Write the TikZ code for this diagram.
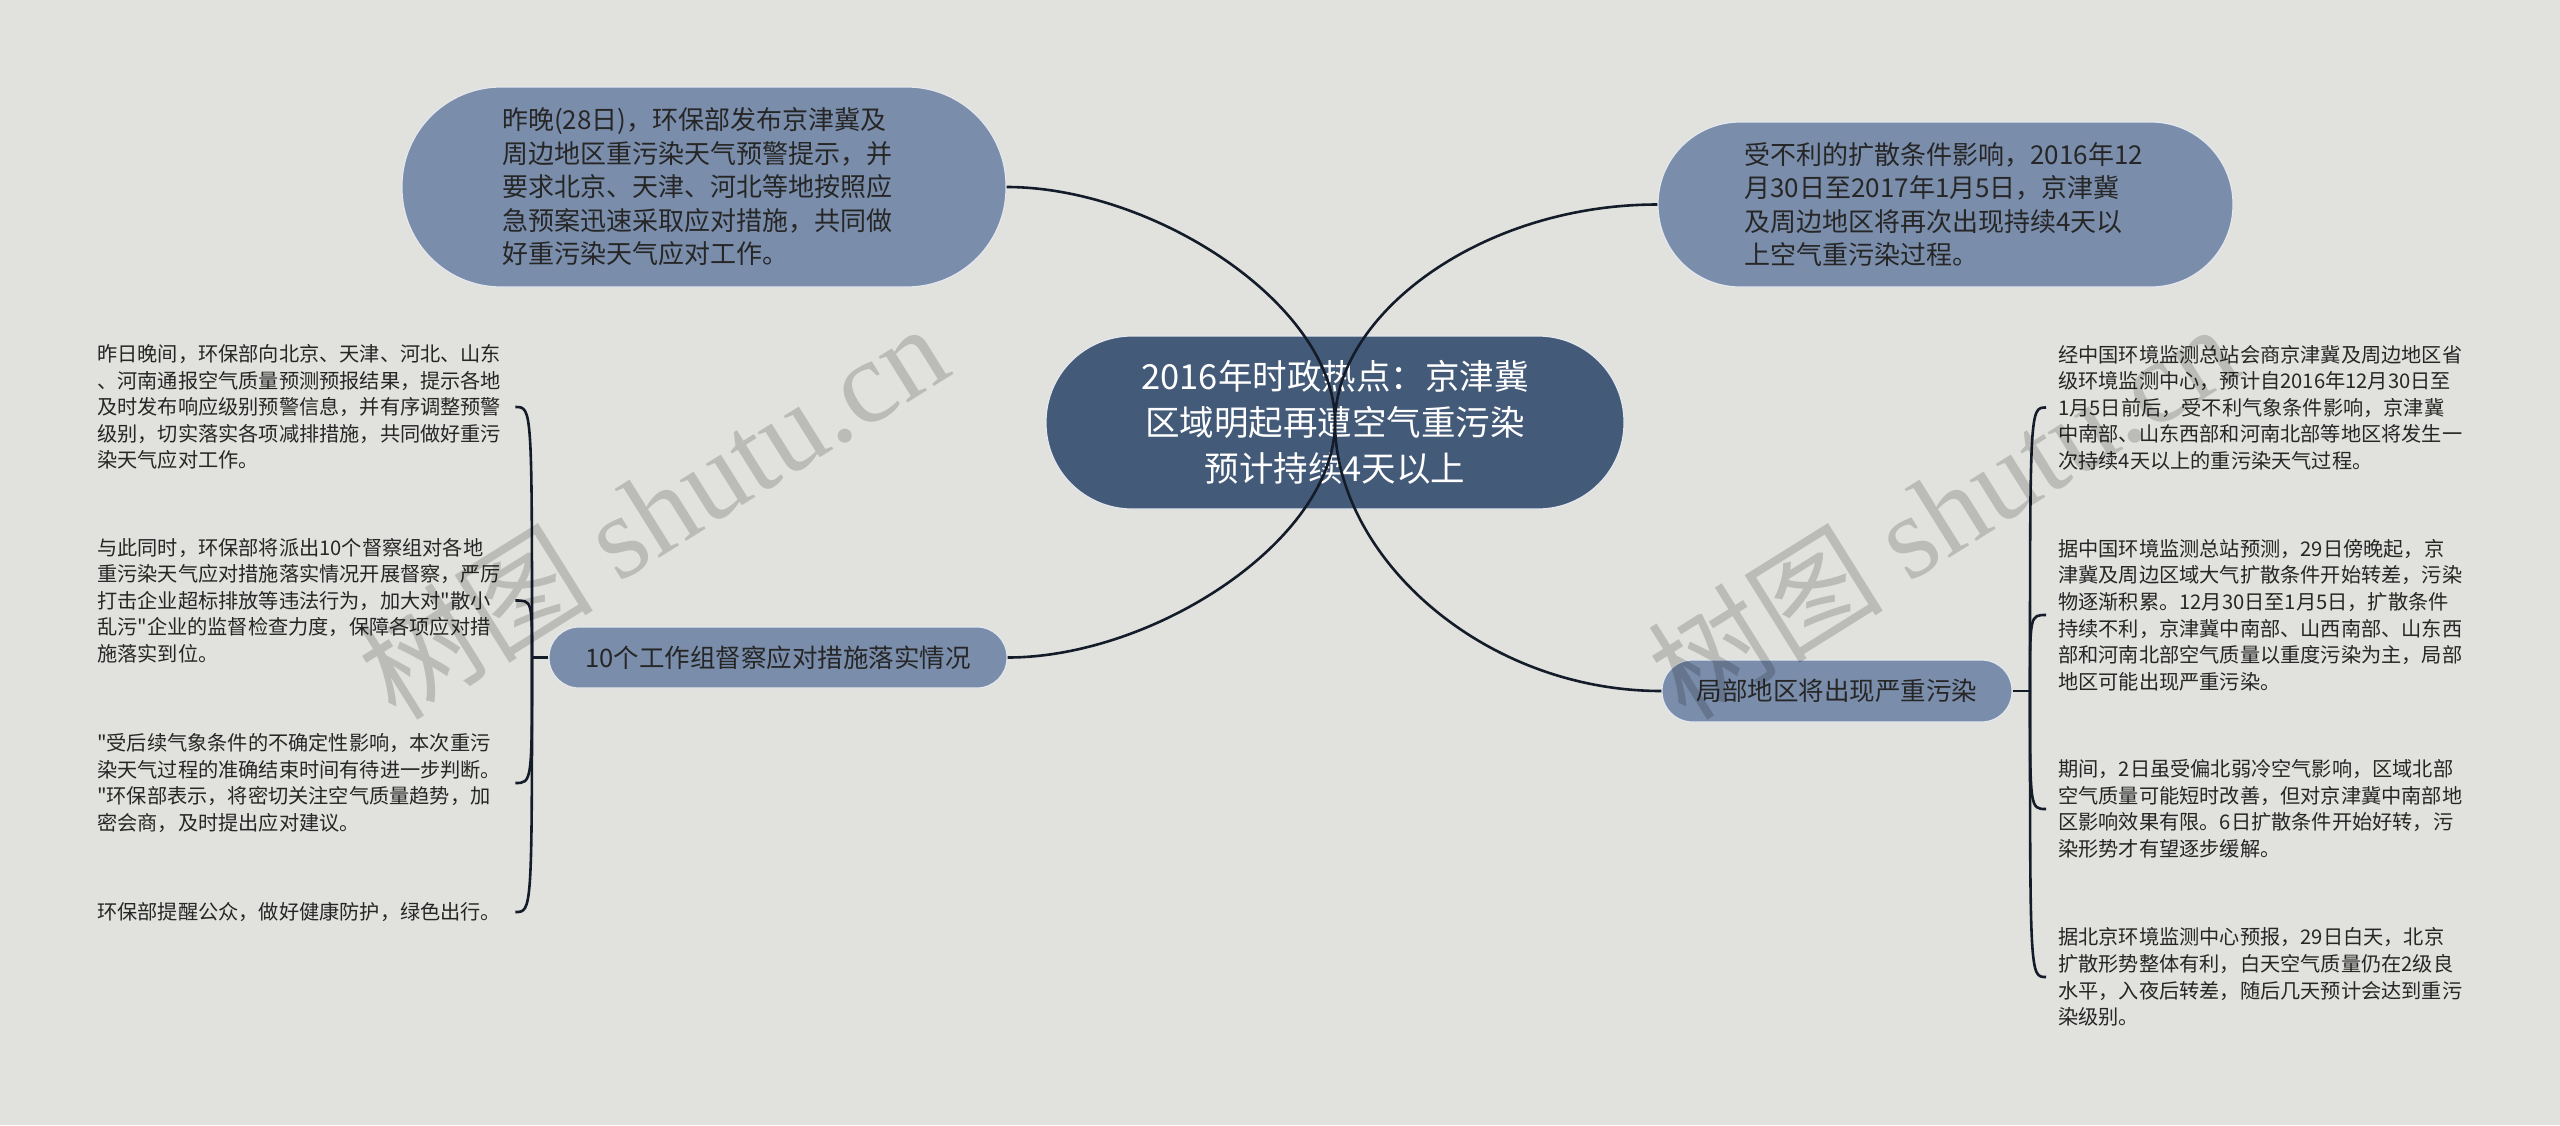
\documentclass[tikz,border=0pt]{standalone}
\usepackage{fontspec}
\setmainfont{Noto Sans CJK SC}
\newfontfamily\cjk{Noto Sans CJK SC}
\newfontfamily\wmlatin{Liberation Serif}
\definecolor{bg}{HTML}{E1E2DE}
\definecolor{rootfill}{HTML}{445A79}
\definecolor{subfill}{HTML}{7A8DAB}
\definecolor{linkc}{HTML}{141C2A}
\definecolor{txt}{HTML}{262626}
\definecolor{edgec}{HTML}{E4E8EE}
\begin{document}
\begin{tikzpicture}[x=1pt,y=-1pt,
  pill/.style={rectangle, draw=edgec, line width=1.2pt, inner sep=0pt},
  root/.style={pill, fill=rootfill, text=white, minimum width=578pt, minimum height=173pt,
    rounded corners=86pt, align=center, font=\cjk\fontsize{34.5pt}{46pt}\selectfont},
  topnode/.style={pill, fill=subfill, text=txt, align=left, font=\cjk\fontsize{26pt}{33.5pt}\selectfont},
  subnode/.style={pill, fill=subfill, text=txt, font=\cjk\fontsize{25.5pt}{30pt}\selectfont},
  leafL/.style={anchor=west, inner xsep=12pt, inner ysep=0pt, text width=406pt, align=left,
    text=txt, font=\cjk\fontsize{20.2pt}{26.6pt}\selectfont},
  leafR/.style={leafL},
  link/.style={draw=linkc, line width=2.6pt},
  wm/.style={rotate=32, text=black, opacity=0.17, inner sep=0pt, font=\cjk\fontsize{118pt}{118pt}\selectfont}
]
\useasboundingbox (0,0) rectangle (2560,1125);
\fill[bg] (0,0) rectangle (2560,1125);

% main nodes
\node[root] (c) at (1335,422.5) {2016年时政热点：京津冀\\区域明起再遭空气重污染\\预计持续4天以上};
\node[topnode, minimum width=604pt, minimum height=200pt, rounded corners=99pt, text width=404pt] (tl) at (704,187)
  {昨晚(28日)，环保部发布京津冀及\\周边地区重污染天气预警提示，并\\要求北京、天津、河北等地按照应\\急预案迅速采取应对措施，共同做\\好重污染天气应对工作。};
\node[topnode, minimum width=575pt, minimum height=165pt, rounded corners=82pt, text width=402pt] (tr) at (1945.5,204.5)
  {受不利的扩散条件影响，2016年12\\月30日至2017年1月5日，京津冀\\及周边地区将再次出现持续4天以\\上空气重污染过程。};
\node[subnode, minimum width=458pt, minimum height=61pt, rounded corners=30pt] (lb) at (778,657.5) {10个工作组督察应对措施落实情况};
\node[subnode, minimum width=350pt, minimum height=62pt, rounded corners=30.5pt] (rb) at (1837,691) {局部地区将出现严重污染};

% left leaves
\node[leafL] (l1) at (85,407) {昨日晚间，环保部向北京、天津、河北、山东\\、河南通报空气质量预测预报结果，提示各地\\及时发布响应级别预警信息，并有序调整预警\\级别，切实落实各项减排措施，共同做好重污\\染天气应对工作。};
\node[leafL] (l2) at (85,600.5) {与此同时，环保部将派出10个督察组对各地\\重污染天气应对措施落实情况开展督察，严厉\\打击企业超标排放等违法行为，加大对"散小\\乱污"企业的监督检查力度，保障各项应对措\\施落实到位。};
\node[leafL] (l3) at (85,783) {"受后续气象条件的不确定性影响，本次重污\\染天气过程的准确结束时间有待进一步判断。\\"环保部表示，将密切关注空气质量趋势，加\\密会商，及时提出应对建议。};
\node[leafL] (l4) at (85,912) {环保部提醒公众，做好健康防护，绿色出行。};

% right leaves
\node[leafR] (r1) at (2046,407.5) {经中国环境监测总站会商京津冀及周边地区省\\级环境监测中心，预计自2016年12月30日至\\1月5日前后，受不利气象条件影响，京津冀\\中南部、山东西部和河南北部等地区将发生一\\次持续4天以上的重污染天气过程。};
\node[leafR] (r2) at (2046,615) {据中国环境监测总站预测，29日傍晚起，京\\津冀及周边区域大气扩散条件开始转差，污染\\物逐渐积累。12月30日至1月5日，扩散条件\\持续不利，京津冀中南部、山西南部、山东西\\部和河南北部空气质量以重度污染为主，局部\\地区可能出现严重污染。};
\node[leafR] (r3) at (2046,809) {期间，2日虽受偏北弱冷空气影响，区域北部\\空气质量可能短时改善，但对京津冀中南部地\\区影响效果有限。6日扩散条件开始好转，污\\染形势才有望逐步缓解。};
\node[leafR] (r4) at (2046,977) {据北京环境监测中心预报，29日白天，北京\\扩散形势整体有利，白天空气质量仍在2级良\\水平，入夜后转差，随后几天预计会达到重污\\染级别。};

% main connectors
\draw[link] (c.center) .. controls (1335,305) and (1154,187) .. (tl.east);
\draw[link] (c.center) .. controls (1335,540) and (1154,657.5) .. (lb.east);
\draw[link] (c.center) .. controls (1335,315) and (1480,204.5) .. (tr.west);
\draw[link] (c.center) .. controls (1335,556) and (1482,691) .. (rb.west);

% left bracket
\coordinate (lj) at (532,657.5);
\draw[link] (lb.west) -- (lj);
\foreach \n in {l1,l2,l3,l4} {
  \draw[link] (lj) .. controls (lj |- \n.east) .. (\n.east);
}
% right bracket
\coordinate (rj) at (2030,691);
\draw[link] (rb.east) -- (rj);
\foreach \n in {r1,r2,r3,r4} {
  \draw[link] (rj) .. controls (rj |- \n.west) .. (\n.west);
}

% watermarks
\node[wm] (w1) at (652,510) {树图 {\wmlatin shutu.cn}};
\node[wm] (w2) at (1942,510) {树图 {\wmlatin shutu.cn}};
\end{tikzpicture}
\end{document}
